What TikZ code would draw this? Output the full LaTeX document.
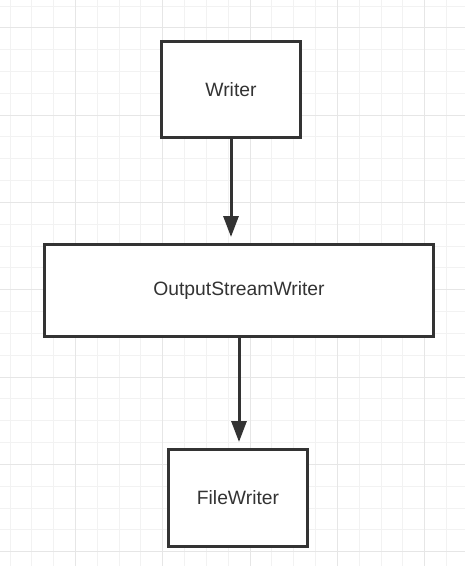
\documentclass[tikz,border=0pt]{standalone}
\usepackage{fontspec}
\setmainfont{Liberation Sans}
\usepackage{xcolor}
\usepackage{tikz}
\usetikzlibrary{arrows.meta, positioning}

\definecolor{ink}{HTML}{333333}
\definecolor{gridfine}{HTML}{F2F2F2}
\definecolor{gridmajor}{HTML}{E6E6E6}

\tikzset{
  classbox/.style={draw=ink, line width=3pt, fill=white, text=ink,
    font=\fontsize{19.3}{23}\selectfont, inner sep=0pt},
  inherit/.style={draw=ink, line width=3pt, shorten >=6pt,
    -{Triangle[length=21pt, width=15pt]}},
}

\begin{document}
\begin{tikzpicture}[x=1pt, y=-1pt]
  % page and grid
  \fill[white] (0,0) rectangle (465,566);
  \useasboundingbox (0,0) rectangle (465,566);
  \foreach \k in {0,...,21} {
    \draw[gridfine, line width=1pt] ({10+21.83*\k},0) -- ({10+21.83*\k},566);
  }
  \foreach \k in {0,...,25} {
    \draw[gridfine, line width=1pt] (0,{6+21.83*\k}) -- (465,{6+21.83*\k});
  }
  \foreach \k in {3,7,...,19} {
    \draw[gridmajor, line width=1pt] ({10+21.83*\k},0) -- ({10+21.83*\k},566);
  }
  \foreach \k in {1,5,...,25} {
    \draw[gridmajor, line width=1pt] (0,{6+21.83*\k}) -- (465,{6+21.83*\k});
  }

  % classes
  \node[classbox, minimum width=139pt, minimum height=96pt] (writer) at (231,89.5) {Writer};
  \node[classbox, minimum width=389pt, minimum height=92pt] (osw) at (239,290.5) {OutputStreamWriter};
  \node[classbox, minimum width=139pt, minimum height=97pt] (file) at (238,498) {FileWriter};

  % arrows
  \draw[inherit] (writer.south) -- (writer.south |- osw.north);
  \draw[inherit] (osw.south) -- (osw.south |- file.north);
\end{tikzpicture}
\end{document}
